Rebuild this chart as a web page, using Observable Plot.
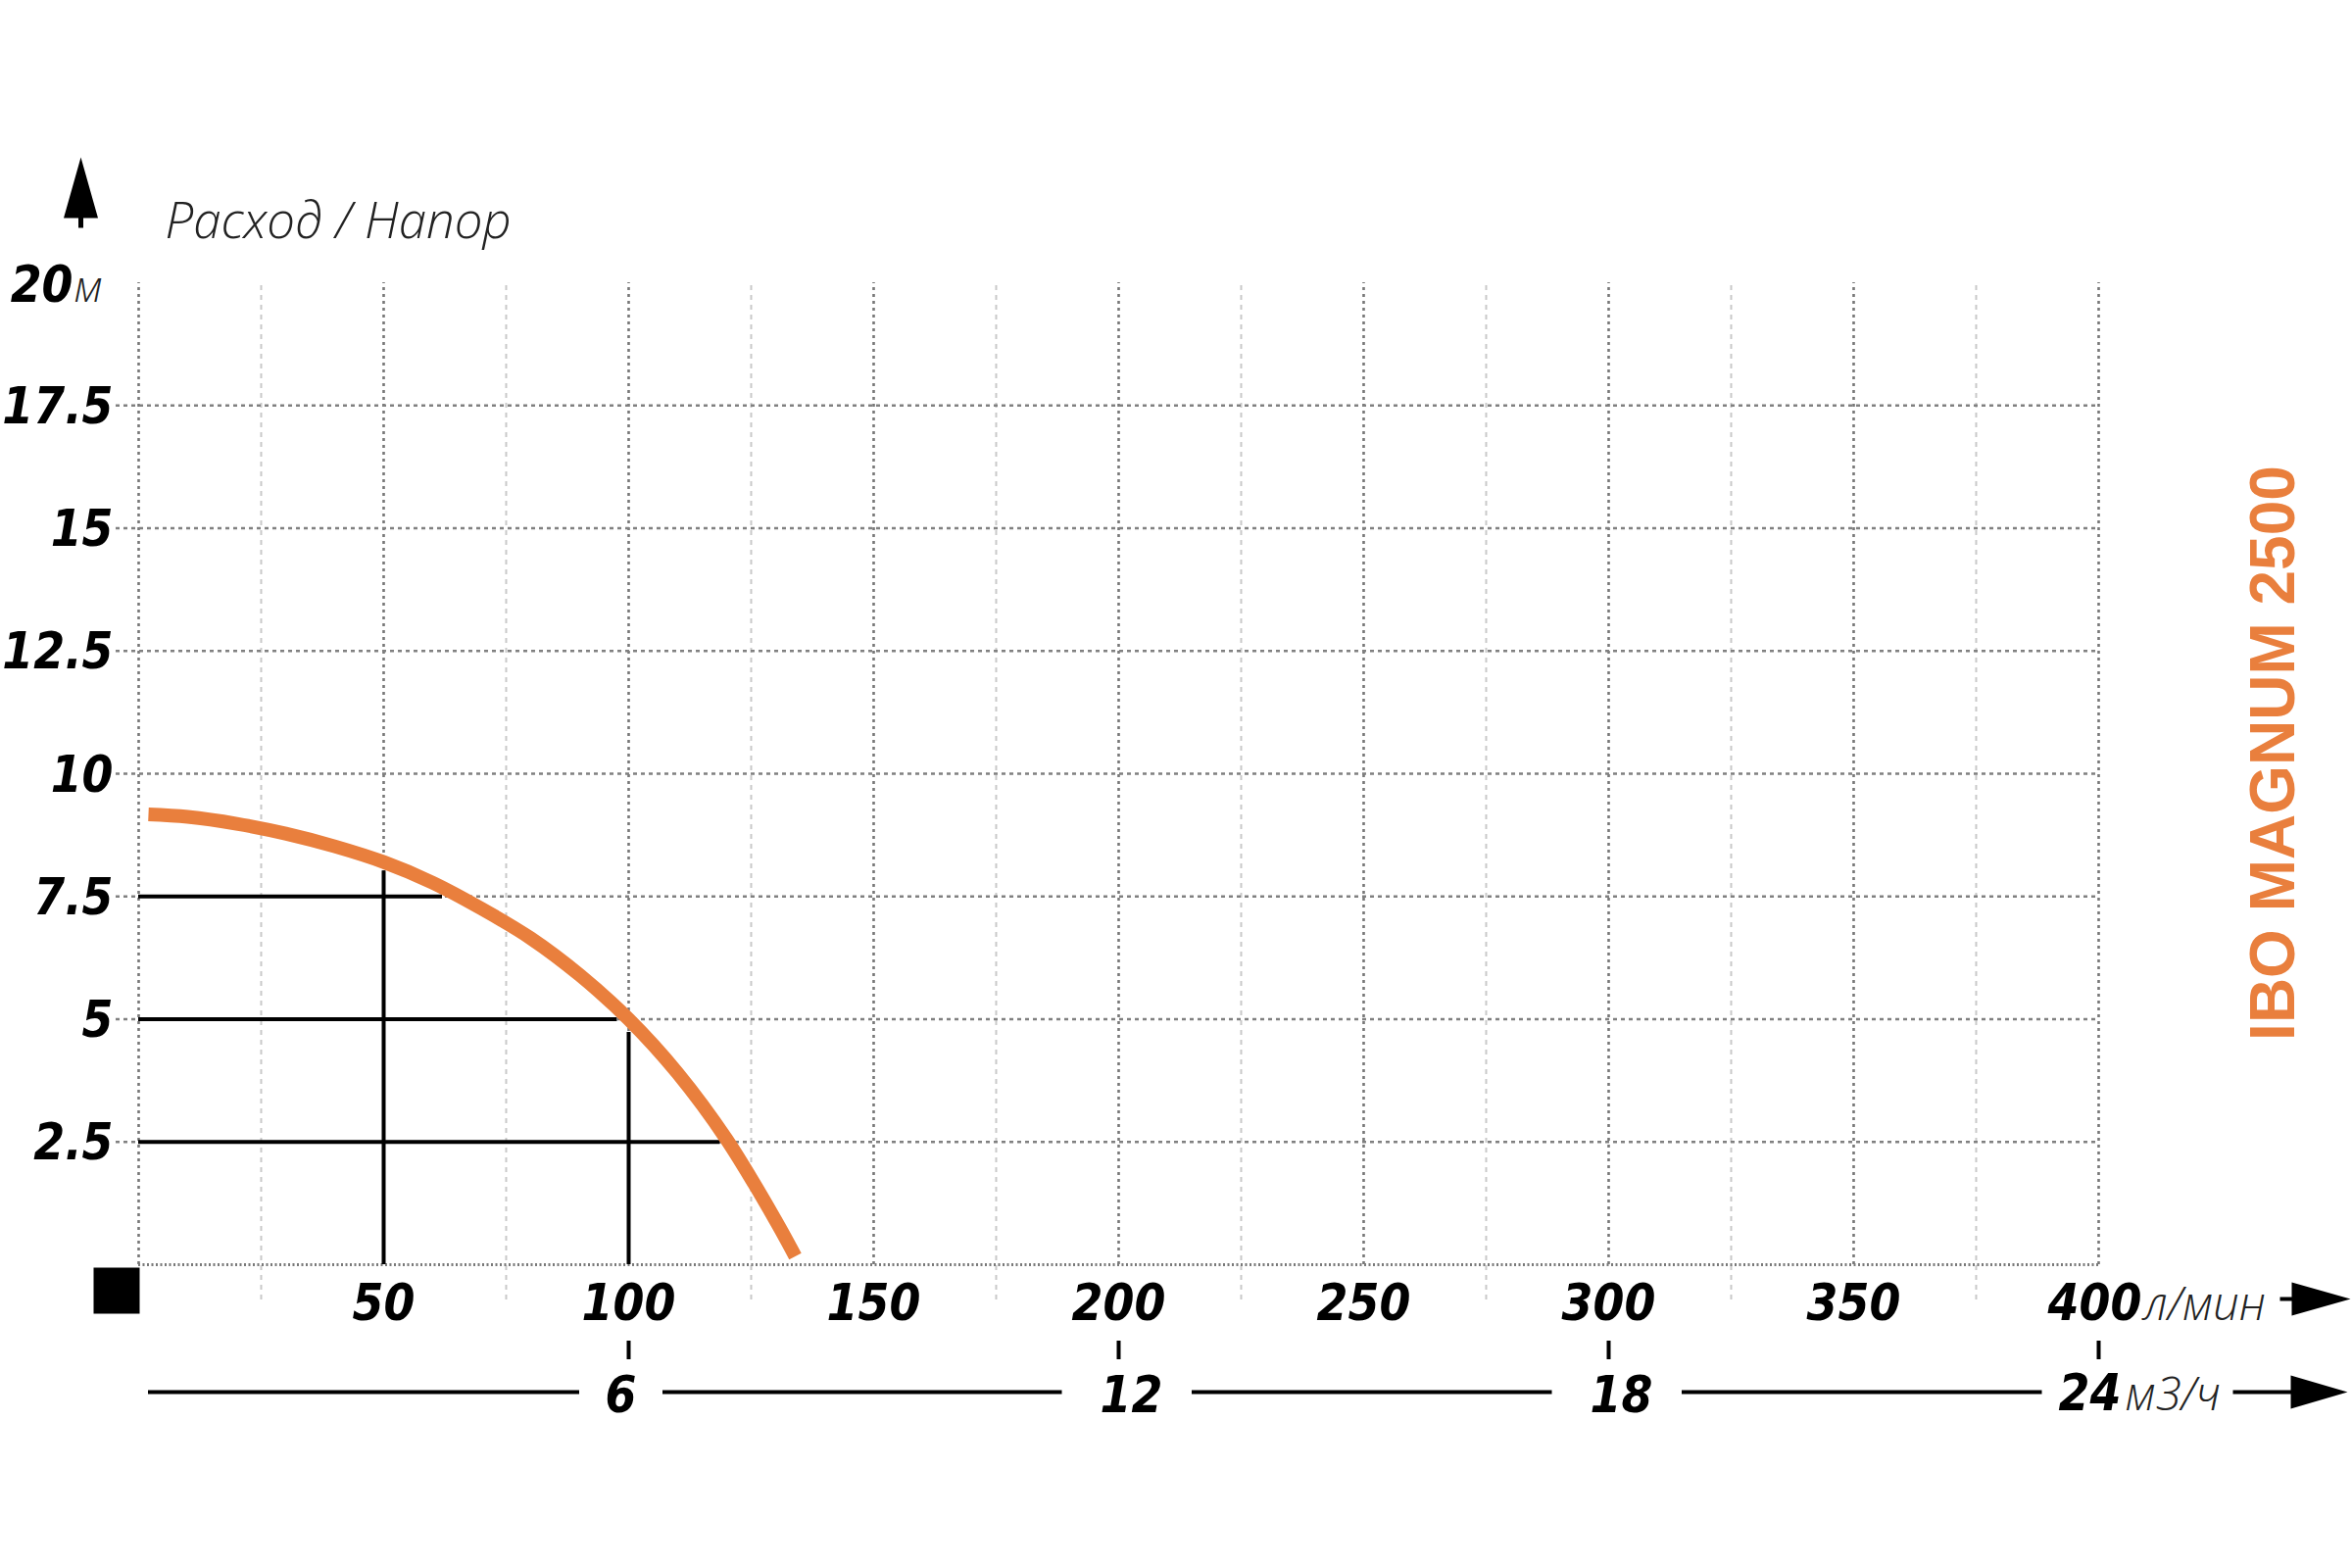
<!DOCTYPE html>
<html>
<head>
<meta charset="utf-8">
<script src="https://cdn.jsdelivr.net/npm/d3@7"></script>
<script src="https://cdn.jsdelivr.net/npm/@observablehq/plot@0.6"></script>
<style>
  html, body { margin: 0; padding: 0; background: #fff; }
</style>
</head>
<body>
<div id="chart"></div>
<script>
// ---------- data ----------
const flowMajor = [0, 50, 100, 150, 200, 250, 300, 350, 400];
const flowMinor = [25, 75, 125, 175, 225, 275, 325, 375];
const flowTicks = [50, 100, 150, 200, 250, 300, 350];
const flowLast = 400;
const flowUnit = "л/мин";
const headTicks = [2.5, 5, 7.5, 10, 12.5, 15, 17.5];
const headTickLabels = ["2.5", "5", "7.5", "10", "12.5", "15", "17.5"];
const headTop = 20;
const headUnit = "м";
const m3hTicks = [6, 12, 18, 24];
const m3hUnit = "м3/ч";
const axisTitle = "Расход / Напор";
const modelName = "IBO MAGNUM 2500";

const curveFlow = [2, 10, 20, 30, 40, 50, 60, 70, 80, 90, 100, 110, 120, 130, 134];
const curveHead = [9.17, 9.12, 8.98, 8.78, 8.52, 8.2, 7.78, 7.25, 6.65, 5.9, 5.0, 3.9, 2.55, 0.9, 0.17];

const refHeads = [7.5, 5, 2.5];
const refHeadFlows = [62, 97.7, 118.7];
const refFlows = [50, 100];
const refFlowHeads = [8.02, 4.73];

// ---------- derived tables ----------
const curve = curveFlow.map((q, i) => ({q, h: curveHead[i]}));
const hRefs = refHeads.map((h, i) => ({h, q: refHeadFlows[i]}));
const vRefs = refFlows.map((q, i) => ({q, h: refFlowHeads[i]}));
const m3ToLmin = d => d * 1000 / 60;
const secLabels = m3hTicks.map(d => ({v: d, q: m3ToLmin(d), label: String(d)}));
const secMid = secLabels.slice(0, -1);
const secLast = secLabels.slice(-1);
// line segments between the secondary labels
const segs = [];
let start = 2;
secLabels.forEach(s => {
  segs.push({a: start, b: s.q - 10 - (s.label.length > 1 ? 1.5 : 0)});
  start = s.q + (s.label.length > 1 ? 15 : 7);
});

// ---------- styles ----------
const ORANGE = "#e97f3d";
const NUM_FONT = "'DejaVu Sans Condensed', 'DejaVu Sans', sans-serif";
const LIGHT_FONT = "'Open Sans', 'Lato', sans-serif";

// custom symbols
const upArrow = {draw(c) {
  c.moveTo(0, 0); c.lineTo(17.5, 62); c.lineTo(2.5, 62); c.lineTo(2.5, 72);
  c.lineTo(-2.5, 72); c.lineTo(-2.5, 62); c.lineTo(-17.5, 62); c.closePath();
}};
const rightArrowShort = {draw(c) {
  c.moveTo(0, 0); c.lineTo(-60, 17); c.lineTo(-60, 2); c.lineTo(-72, 2);
  c.lineTo(-72, -2); c.lineTo(-60, -2); c.lineTo(-60, -17); c.closePath();
}};
const rightArrowLong = {draw(c) {
  c.moveTo(0, 0); c.lineTo(-58, 17); c.lineTo(-58, 2); c.lineTo(-117, 2);
  c.lineTo(-117, -2); c.lineTo(-58, -2); c.lineTo(-58, -17); c.closePath();
}};
const squareSym = {draw(c) { c.rect(-23.5, -23.5, 47, 47); }};
const vTick = {draw(c) { c.rect(-2, -9.5, 4, 19); }};

const numText = {fontFamily: NUM_FONT, fontWeight: "bold", fontStyle: "italic", fontSize: 51, fill: "#000"};
const unitText = {fontFamily: LIGHT_FONT, fontWeight: 300, fontStyle: "italic", fontSize: 47, fill: "#222"};

const chart = Plot.plot({
  width: 2400,
  height: 1600,
  marginLeft: 141,
  marginRight: 259,
  marginTop: 288,
  marginBottom: 310,
  style: {background: "#fff", overflow: "visible"},
  x: {domain: [0, 400], axis: null},
  y: {domain: [0, 20], axis: null},
  marks: [
    // minor vertical grid
    Plot.ruleX(flowMinor, {y1: 0, y2: 20, insetTop: 36, stroke: "#c9c9c9", strokeWidth: 2, strokeDasharray: "5,5"}),
    // major vertical grid
    Plot.ruleX(flowMajor, {y1: 0, y2: 20, stroke: "#777", strokeWidth: 2.6, strokeDasharray: "3,4"}),
    // horizontal grid
    Plot.ruleY(headTicks, {x1: 0, x2: 400, insetLeft: -23, stroke: "#808080", strokeWidth: 2.4, strokeDasharray: "4,4"}),
    // bottom axis line
    Plot.ruleY([0], {x1: 0, x2: 400, stroke: "#7a7a7a", strokeWidth: 3, strokeDasharray: "2,2.5"}),
    // reference lines
    Plot.ruleY(hRefs, {y: "h", x1: 0, x2: "q", stroke: "#000", strokeWidth: 4}),
    Plot.ruleX(vRefs, {x: "q", y1: 0, y2: "h", stroke: "#000", strokeWidth: 4}),
    // pump curve
    Plot.line(curve, {x: "q", y: "h", curve: "catmull-rom", stroke: ORANGE, strokeWidth: 14, strokeLinecap: "butt"}),
    // y tick labels
    Plot.text(headTicks, {x: 0, y: d => d, text: (d, i) => headTickLabels[i], textAnchor: "end", lineAnchor: "bottom", dx: -26, dy: 18, ...numText}),
    Plot.text([headTop], {x: 0, y: d => d, text: d => String(d), textAnchor: "end", lineAnchor: "bottom", dx: -67, dy: 19, ...numText}),
    Plot.text([headTop], {x: 0, y: d => d, text: () => headUnit, textAnchor: "start", lineAnchor: "bottom", dx: -66, dy: 19, ...unitText, fontSize: 44}),
    // x tick labels
    Plot.text(flowTicks, {x: d => d, y: 0, text: d => String(d), textAnchor: "middle", lineAnchor: "bottom", dy: 56, ...numText}),
    Plot.text([flowLast], {x: d => d, y: 0, text: d => String(d), textAnchor: "middle", lineAnchor: "bottom", dx: -4, dy: 56, ...numText}),
    Plot.text([flowLast], {x: d => d, y: 0, text: () => flowUnit, textAnchor: "start", lineAnchor: "bottom", dx: 46, dy: 56, ...unitText}),
    Plot.dot([flowLast], {x: d => d, y: 0, symbol: rightArrowShort, fill: "#000", stroke: "none", dx: 257, dy: 35}),
    // small ticks between axes
    Plot.dot(secLabels, {x: "q", y: 0, symbol: vTick, fill: "#000", stroke: "none", dy: 87}),
    // secondary axis (m3/h)
    Plot.ruleY(segs, {x1: "a", x2: "b", y: 0, dy: 130, stroke: "#000", strokeWidth: 4}),
    Plot.text(secMid.filter(s => s.label.length === 1), {x: "q", y: 0, text: "label", textAnchor: "middle", lineAnchor: "bottom", dx: -8, dy: 150, ...numText}),
    Plot.text(secMid.filter(s => s.label.length > 1), {x: "q", y: 0, text: "label", textAnchor: "middle", lineAnchor: "bottom", dx: 13, dy: 150, ...numText}),
    Plot.text(secLast, {x: "q", y: 0, text: "label", textAnchor: "middle", lineAnchor: "bottom", dx: -9, dy: 148, ...numText}),
    Plot.text(secLast, {x: "q", y: 0, text: () => m3hUnit, textAnchor: "start", lineAnchor: "bottom", dx: 27, dy: 148, ...unitText}),
    Plot.dot(secLast, {x: "q", y: 0, symbol: rightArrowLong, fill: "#000", stroke: "none", dx: 254, dy: 130}),
    // origin square
    Plot.dot([0], {x: 0, y: 0, symbol: squareSym, fill: "#000", stroke: "none", dx: -22.5, dy: 26.5}),
    // up arrow
    Plot.dot([0], {frameAnchor: "top-left", symbol: upArrow, fill: "#000", stroke: "none", dx: -59, dy: -128}),
    // axis title
    Plot.text([axisTitle], {frameAnchor: "top-left", text: d => d, textAnchor: "start", lineAnchor: "bottom", dx: 27, dy: -46,
      fontFamily: LIGHT_FONT, fontWeight: 300, fontStyle: "italic", fontSize: 51, fill: "#222"}),
    // model name
    Plot.text([modelName], {frameAnchor: "right", text: d => d, rotate: -90, textAnchor: "middle", lineAnchor: "middle", dx: 179, dy: -21,
      fontFamily: "'Liberation Sans', Arial, sans-serif", fontWeight: "bold", fontSize: 64, fill: ORANGE})
  ]
});
document.getElementById("chart").appendChild(chart);
</script>
</body>
</html>
